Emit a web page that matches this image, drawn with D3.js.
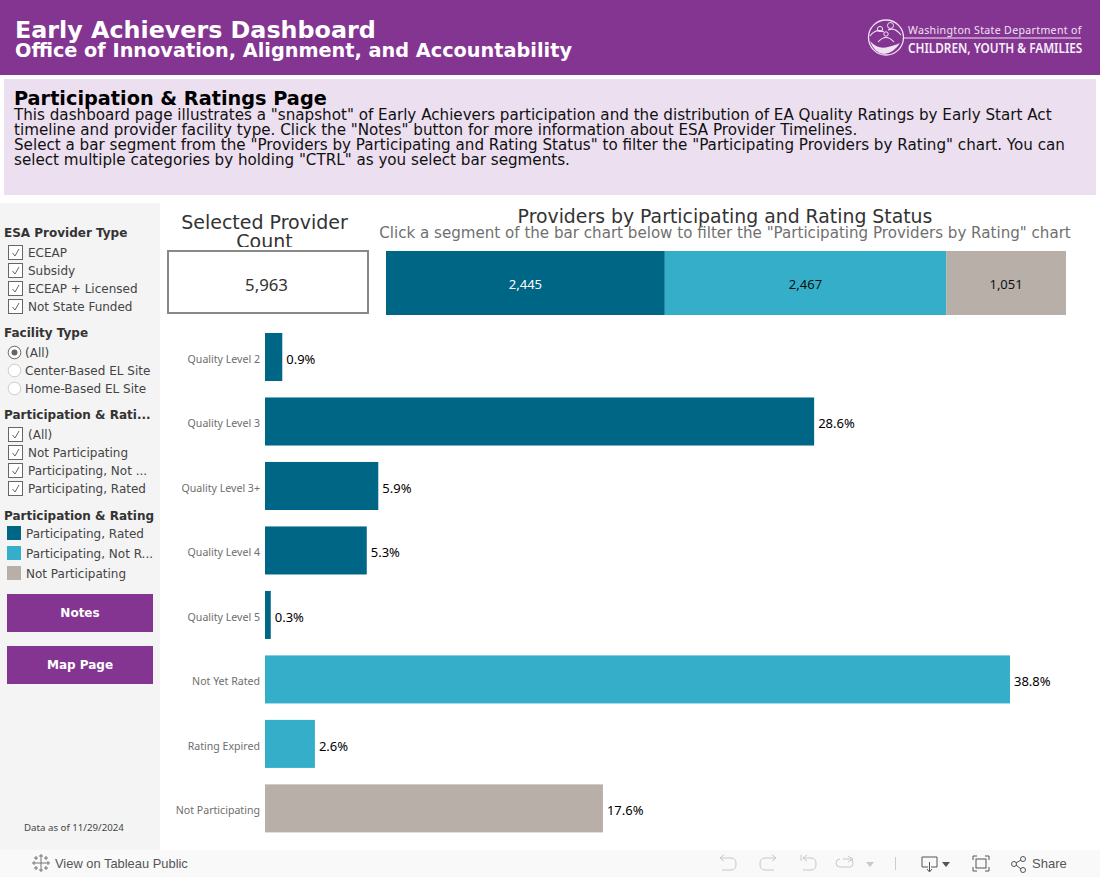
<!DOCTYPE html>
<html><head><meta charset="utf-8">
<script src="https://cdn.jsdelivr.net/npm/d3@7"></script>
<style>html,body{margin:0;padding:0;background:#fff;overflow:hidden}svg{display:block}</style>
</head><body><svg id="c" width="1100" height="877"></svg>
<script>
const ratingCategories=["Quality Level 2","Quality Level 3","Quality Level 3+","Quality Level 4","Quality Level 5","Not Yet Rated","Rating Expired","Not Participating"];
const ratingValues=[0.9,28.6,5.9,5.3,0.3,38.8,2.6,17.6];
const ratingGroups=["rated","rated","rated","rated","rated","notRated","notRated","not"];
const statusKeys=["rated","notRated","not"];
const statusValues=[2445,2467,1051];
const statusColors=["#006685","#35afc9","#b9afa9"];
const providerTypes=["ECEAP","Subsidy","ECEAP + Licensed","Not State Funded"];
const facilityTypes=["(All)","Center-Based EL Site","Home-Based EL Site"];
const participationFilters=["(All)","Not Participating","Participating, Not ...","Participating, Rated"];
const legendItems=["Participating, Rated","Participating, Not R...","Not Participating"];
const introLines=['This dashboard page illustrates a "snapshot" of Early Achievers participation and the distribution of EA Quality Ratings by Early Start Act',
'timeline and provider facility type. Click the "Notes" button for more information about ESA Provider Timelines.',
'Select a bar segment from the "Providers by Participating and Rating Status" to filter the "Participating Providers by Rating" chart. You can',
'select multiple categories by holding "CTRL" as you select bar segments.'];

const DJ="'DejaVu Sans',sans-serif",NS="'Noto Sans',sans-serif",AR="'Liberation Sans',Arial,sans-serif";
const svg=d3.select("#c");
const rect=(x,y,w,h,f,g)=>(g||svg).append("rect").attr("x",x).attr("y",y).attr("width",w).attr("height",h).attr("fill",f);
const text=(x,y,s,o={},g)=>(g||svg).append("text").attr("x",x).attr("y",y).text(s)
  .attr("font-family",o.ff||DJ).attr("font-size",o.fs||12.5).attr("font-weight",o.fw||"normal")
  .attr("fill",o.c||"#333").attr("text-anchor",o.a||"start");
const colorOf=d3.scaleOrdinal(statusKeys,statusColors);

// header
rect(0,0,1100,75,"#843592");
text(15,38,"Early Achievers Dashboard",{fs:23.8,fw:"bold",c:"#fff"});
text(15,57,"Office of Innovation, Alignment, and Accountability",{fs:19.3,fw:"bold",c:"#fff"});
// logo
const logo=svg.append("g").attr("fill","none").attr("stroke","#efe3f1");
logo.append("circle").attr("cx",886).attr("cy",37.5).attr("r",17.5).attr("stroke-width",1.3);
logo.append("circle").attr("cx",890.5).attr("cy",25.5).attr("r",3).attr("stroke-width",1);
logo.append("circle").attr("cx",880).attr("cy",29).attr("r",2.6).attr("stroke-width",1);
logo.append("circle").attr("cx",886).attr("cy",34).attr("r",2.2).attr("stroke-width",1);
logo.append("path").attr("d","M870 36Q876 28 884 32M888 30Q895 27 901 35M878 42Q886 33 894 42").attr("stroke-width",1.1);
logo.append("path").attr("d","M870 41Q878 50 888 47Q896 45 900 43Q894 53 884 54Q874 53 870 41Z").attr("fill","#efe3f1").attr("stroke","none");
svg.append("line").attr("x1",904).attr("x2",1081).attr("y1",38).attr("y2",38).attr("stroke","#efe3f1").attr("stroke-width",1);
text(908,34,"Washington State Department of",{ff:NS,fs:10.6,c:"#efe3f1"}).attr("letter-spacing",0.32);
text(0,0,"CHILDREN, YOUTH & FAMILIES",{ff:NS,fs:13.6,fw:"600",c:"#f7f0f8"}).attr("transform","translate(908,53) scale(0.867,1)");

// intro
rect(4,79,1092,116,"#ecdfef");
text(14,105,"Participation & Ratings Page",{fs:19.3,fw:"bold",c:"#000"});
introLines.forEach((l,i)=>text(14,120+i*15,l,{fs:15.15,c:"#111"}));

// sidebar
rect(0,203,160,647,"#f4f4f4");
const head=(y,s)=>text(4,y,s,{fs:12,fw:"bold",c:"#333"});
const label=(x,y,s)=>text(x,y,s,{fs:12,c:"#444"});
function checkbox(y,s){
  rect(8.5,y-11.5,14,14,"#fff").attr("stroke","#666").attr("stroke-width",1);
  svg.append("path").attr("d",`M12.5 ${y-4}l2.5 3l4 -7`).attr("fill","none").attr("stroke","#666").attr("stroke-width",1);
  label(28,y,s);
}
function radio(y,s,on){
  svg.append("circle").attr("cx",14.5).attr("cy",y-4.5).attr("r",6.3).attr("fill","#fff").attr("stroke",on?"#666":"#ccc");
  if(on) svg.append("circle").attr("cx",14.5).attr("cy",y-4.5).attr("r",3).attr("fill","#666");
  label(25,y,s);
}
head(237,"ESA Provider Type");
providerTypes.forEach((s,i)=>checkbox(257+i*18,s));
head(337,"Facility Type");
facilityTypes.forEach((s,i)=>radio(357+i*18,s,i===0));
head(419,"Participation & Rati...");
participationFilters.forEach((s,i)=>checkbox(439+i*18,s));
head(520,"Participation & Rating");
legendItems.forEach((s,i)=>{
  rect(7,526+i*20,14,14,statusColors[i]);
  label(26,538+i*20,s);
});
[["Notes",594],["Map Page",646]].forEach(([s,y])=>{
  rect(7,y,146,38,"#843592");
  text(80,y+23,s,{fs:12,fw:"bold",c:"#fff",a:"middle"});
});
text(24,831,"Data as of 11/29/2024",{ff:NS,fs:9.7,c:"#444"});

// count card
const total=d3.sum(statusValues);
text(264.5,229,"Selected Provider",{fs:19,c:"#333",a:"middle"});
const clip=svg.append("clipPath").attr("id","cc");rect(160,205,210,42,"#000",clip);
text(264.5,248,"Count",{fs:19,c:"#333",a:"middle"}).attr("clip-path","url(#cc)");
rect(168,251,200,62,"#fff").attr("stroke","#888").attr("stroke-width",2);
text(266.5,291,d3.format(",")(total),{ff:NS,fs:16.8,c:"#333",a:"middle"});

// stacked bar
text(725,223,"Providers by Participating and Rating Status",{fs:18.85,c:"#333",a:"middle"});
text(725,238,'Click a segment of the bar chart below to filter the "Participating Providers by Rating" chart',{fs:15.1,c:"#707070",a:"middle"});
const xStack=d3.scaleLinear().domain([0,total]).range([386,1066]);
const stack=d3.stack().keys(statusKeys)([Object.fromEntries(statusKeys.map((k,i)=>[k,statusValues[i]]))]);
const stackG=svg.append("g");
stackG.selectAll("rect").data(stack).join("rect")
  .attr("x",d=>xStack(d[0][0])).attr("width",d=>xStack(d[0][1])-xStack(d[0][0]))
  .attr("y",251).attr("height",64).attr("fill",d=>colorOf(d.key));
stackG.selectAll("text").data(stack).join("text")
  .attr("x",d=>(xStack(d[0][0])+xStack(d[0][1]))/2).attr("y",289)
  .attr("text-anchor","middle").attr("font-family",NS).attr("font-size",13)
  .attr("fill",(d,i)=>i===0?"#fff":"#111").text((d,i)=>d3.format(",")(statusValues[i]));

// rating bars
const x=d3.scaleLinear().domain([0,38.8]).range([265,1010]);
const y=d3.scaleBand().domain(ratingCategories).range([325,840.4]).paddingInner(0.255).paddingOuter(0.124);
const rows=ratingCategories.map((c,i)=>({c,v:ratingValues[i],g:ratingGroups[i]}));
svg.append("g").selectAll("rect").data(rows).join("rect")
  .attr("x",x(0)).attr("y",d=>y(d.c)).attr("width",d=>x(d.v)-x(0)).attr("height",y.bandwidth()).attr("fill",d=>colorOf(d.g));
svg.append("g").selectAll("text").data(rows).join("text")
  .attr("x",d=>x(d.v)+4).attr("y",d=>y(d.c)+y.bandwidth()/2+7)
  .attr("font-family",NS).attr("font-size",13).attr("fill","#000").text(d=>d.v.toFixed(1)+"%");
const yAxis=d3.axisLeft(y).tickSize(0).tickPadding(5);
const ag=svg.append("g").attr("transform",`translate(${x(0)},2.5)`).call(yAxis);
ag.select(".domain").remove();
ag.selectAll("text").attr("font-family",NS).attr("font-size",10.6).attr("fill","#6e6e6e");

// toolbar
rect(0,850,1100,27,"#f9f9f9");
const tb=svg.append("g").attr("fill","none").attr("stroke","#777").attr("stroke-width",1);
[[41,863,5],[36,858,2],[46,858,2],[36,868,2],[46,868,2],[41,856,2],[41,870,2],[34,863,2],[48,863,2]].forEach(([a,b,r])=>{
  tb.append("path").attr("d",`M${a-r} ${b}H${a+r}M${a} ${b-r}V${b+r}`);
});
text(55,868,"View on Tableau Public",{ff:AR,fs:12.9,c:"#555"});
const ig=svg.append("g").attr("fill","none").attr("stroke","#c8c8c8").attr("stroke-width",1);
ig.append("path").attr("d","M720 858H731Q736 858 736 864Q736 870 731 870H722M720 858l4 -3M720 858l4 3");
ig.append("path").attr("d","M776 858H765Q760 858 760 864Q760 870 765 870H774M776 858l-4 -3M776 858l-4 3");
ig.append("path").attr("d","M801 855V861M803 858H811Q816 858 816 864Q816 870 811 870H803M803 858l4 -3M803 858l4 3");
ig.append("path").attr("d","M843 859H850Q853 859 853 863Q853 867 850 867H840Q836 867 836 863Q836 859 840 859M848 856l5 3l-5 3");
svg.append("path").attr("d","M866 862h8l-4 5z").attr("fill","#c8c8c8");
svg.append("line").attr("x1",895.5).attr("x2",895.5).attr("y1",857).attr("y2",870).attr("stroke","#ccc");
const dg=svg.append("g").attr("fill","none").attr("stroke","#555").attr("stroke-width",1);
dg.append("path").attr("d","M928 867H922V857H937V867H931M929.5 862V871M927 869l2.5 3l2.5 -3");
svg.append("path").attr("d","M942 862h8l-4 5z").attr("fill","#555");
dg.append("path").attr("d","M973 860V856H977M985 856H989V860M989 867V871H985M977 871H973V867");
dg.append("rect").attr("x",976).attr("y",859).attr("width",10).attr("height",9);
dg.append("circle").attr("cx",1014).attr("cy",864).attr("r",2.5);
dg.append("circle").attr("cx",1023).attr("cy",859).attr("r",2.5);
dg.append("circle").attr("cx",1023).attr("cy",870).attr("r",2.5);
dg.append("path").attr("d","M1016 863L1021 860M1016 865L1021 869");
text(1032,868,"Share",{ff:AR,fs:13,c:"#555"});
</script></body></html>
